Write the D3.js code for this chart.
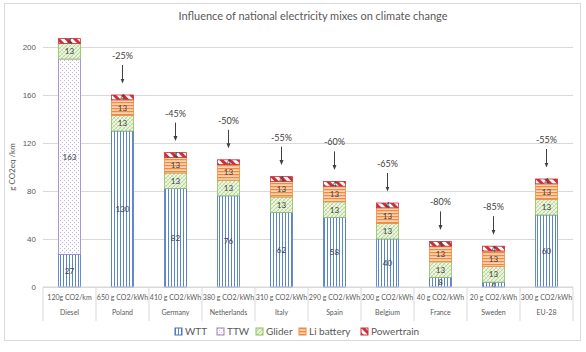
<!DOCTYPE html>
<html>
<head>
<meta charset="utf-8">
<script src="https://cdn.jsdelivr.net/npm/d3@7"></script>
<style>
  body { margin: 0; background: #fff; }
  svg { font-family: Lato, "Liberation Sans", sans-serif; }
</style>
</head>
<body>
<div id="chart"></div>
<script>
// DATA
var categories = ['Diesel', 'Poland', 'Germany', 'Netherlands', 'Italy', 'Spain', 'Belgium', 'France', 'Sweden', 'EU-28'];
var mixes = ['120g CO2/km', '650 g CO2/kWh', '410 g CO2/kWh', '380 g CO2/kWh', '310 g CO2/kWh',
             '290 g CO2/kWh', '200 g CO2/kWh', '40 g CO2/kWh', '20 g CO2/kWh', '300 g CO2/kWh'];
var wtt = [27, 130, 82, 76, 62, 58, 40, 8, 4, 60];
var ttw = [163, 0, 0, 0, 0, 0, 0, 0, 0, 0];
var glider = [13, 13, 13, 13, 13, 13, 13, 13, 13, 13];
var liBattery = [0, 13, 13, 13, 13, 13, 13, 13, 13, 13];
var powertrain = [4, 4, 4, 4, 4, 4, 4, 4, 4, 4];
var reductions = ['', '-25%', '-45%', '-50%', '-55%', '-60%', '-65%', '-80%', '-85%', '-55%'];
var seriesNames = ['WTT', 'TTW', 'Glider', 'Li battery', 'Powertrain'];
var yTicks = [0, 40, 80, 120, 160, 200];

var width = 586, height = 352,
    margin = { top: 47, right: 13, bottom: 65, left: 43 };

var colors = {
    'WTT': '#4472c4',
    'TTW': '#9a80c8',
    'Glider': '#8fbf5a',
    'Li battery': '#f08a3c',
    'Powertrain': '#c9303a'
};
var patternIds = { 'WTT': 'p-wtt', 'TTW': 'p-ttw', 'Glider': 'p-glider', 'Li battery': 'p-li', 'Powertrain': 'p-pt' };

var table = categories.map(function (c, i) {
    return { cat: c, mix: mixes[i], 'WTT': wtt[i], 'TTW': ttw[i], 'Glider': glider[i],
             'Li battery': liBattery[i], 'Powertrain': powertrain[i], red: reductions[i] };
});

var svg = d3.select('#chart').append('svg')
    .attr('width', width)
    .attr('height', height);

// PATTERNS
var defs = svg.append('defs');
var p = defs.append('pattern').attr('id', 'p-wtt').attr('patternUnits', 'userSpaceOnUse')
    .attr('width', 3).attr('height', 3);
p.append('rect').attr('width', 3).attr('height', 3).attr('fill', '#fff');
p.append('rect').attr('x', 0).attr('width', 1).attr('height', 3).attr('fill', '#5a84cc');

p = defs.append('pattern').attr('id', 'p-ttw').attr('patternUnits', 'userSpaceOnUse')
    .attr('width', 4).attr('height', 4);
p.append('rect').attr('width', 4).attr('height', 4).attr('fill', '#fdfcfe');
p.append('rect').attr('x', 0).attr('y', 0).attr('width', 1).attr('height', 1).attr('fill', '#c3b3e0');
p.append('rect').attr('x', 2).attr('y', 2).attr('width', 1).attr('height', 1).attr('fill', '#c3b3e0');

p = defs.append('pattern').attr('id', 'p-glider').attr('patternUnits', 'userSpaceOnUse')
    .attr('width', 4).attr('height', 4);
p.append('rect').attr('width', 4).attr('height', 4).attr('fill', '#eef5e4');
p.append('path').attr('d', 'M0,4 L4,0 M-1,1 L1,-1 M3,5 L5,3').attr('stroke', '#a9cf83').attr('stroke-width', 0.8);
p.append('path').attr('d', 'M0,0 L4,4').attr('stroke', '#c8e0ae').attr('stroke-width', 0.6);

p = defs.append('pattern').attr('id', 'p-li').attr('patternUnits', 'userSpaceOnUse')
    .attr('width', 3).attr('height', 3);
p.append('rect').attr('width', 3).attr('height', 3).attr('fill', '#fbd2b3');
p.append('rect').attr('y', 0).attr('width', 3).attr('height', 1.2).attr('fill', colors['Li battery']);

p = defs.append('pattern').attr('id', 'p-pt').attr('patternUnits', 'userSpaceOnUse')
    .attr('width', 6).attr('height', 6).attr('patternTransform', 'rotate(-45)');
p.append('rect').attr('width', 6).attr('height', 6).attr('fill', '#fff');
p.append('rect').attr('width', 3).attr('height', 6).attr('fill', colors['Powertrain']);

defs.append('marker').attr('id', 'arrow')
    .attr('viewBox', '0 0 10 10').attr('refX', 5).attr('refY', 5)
    .attr('markerWidth', 5).attr('markerHeight', 5).attr('orient', 'auto')
    .append('path').attr('d', 'M0,1 L10,5 L0,9 Z').attr('fill', '#404040');

// OUTER FRAME
svg.append('rect').attr('x', 4.5).attr('y', 3.5).attr('width', 576).attr('height', 337)
    .attr('fill', 'none').attr('stroke', '#d9d9d9');

// SCALES
var x = d3.scaleBand()
    .domain(categories)
    .range([margin.left, width - margin.right])
    .paddingInner(0).paddingOuter(0);
var y = d3.scaleLinear()
    .domain([0, 200])
    .range([height - margin.bottom, margin.top]);

// GRID + Y AXIS
var yAxis = d3.axisLeft(y).tickValues(yTicks).tickSize(-(x.range()[1] - x.range()[0])).tickPadding(7);
var gy = svg.append('g').attr('transform', 'translate(' + margin.left + ',0)').call(yAxis);
gy.select('.domain').remove();
gy.selectAll('line').attr('stroke', '#d9d9d9');
gy.selectAll('text').attr('fill', '#595959').style('font-size', '8px');

svg.append('text')
    .attr('transform', 'translate(15,' + y(100) + ') rotate(-90)')
    .attr('text-anchor', 'middle')
    .attr('fill', '#595959')
    .style('font-size', '8px')
    .text('g CO2eq /km');

// TITLE
svg.append('text')
    .attr('x', 313).attr('y', 20)
    .attr('text-anchor', 'middle')
    .attr('fill', '#595959')
    .style('font-size', '11px')
    .text('Influence of national electricity mixes on climate change');

// STACKED BARS
var stack = d3.stack().keys(seriesNames);
var series = stack(table);
var barW = 22;

var groups = svg.selectAll('.series').data(series).enter().append('g').attr('class', 'series');
groups.selectAll('rect')
    .data(function (s) { return s.map(function (d) { return { key: s.key, d: d }; }); })
    .enter().append('rect')
    .filter(function (o) { return o.d[1] - o.d[0] > 0; })
    .attr('x', function (o) { return x(o.d.data.cat) + x.bandwidth() / 2 - barW / 2; })
    .attr('y', function (o) { return y(o.d[1]); })
    .attr('width', barW)
    .attr('height', function (o) { return y(o.d[0]) - y(o.d[1]); })
    .attr('fill', function (o) { return 'url(#' + patternIds[o.key] + ')'; })
    .attr('stroke', function (o) { return colors[o.key]; })
    .attr('stroke-width', 0.8);

groups.selectAll('text.val')
    .data(function (s) { return s.map(function (d) { return { key: s.key, d: d }; }); })
    .enter().append('text')
    .filter(function (o) { return o.d[1] - o.d[0] > 0; })
    .attr('class', 'val')
    .attr('x', function (o) { return x(o.d.data.cat) + x.bandwidth() / 2; })
    .attr('y', function (o) { return (y(o.d[0]) + y(o.d[1])) / 2 + 3; })
    .attr('text-anchor', 'middle')
    .attr('fill', '#404040')
    .style('font-size', '8px')
    .text(function (o) { return o.d[1] - o.d[0]; });

// REDUCTION ANNOTATIONS
var tot = function (d) { return seriesNames.reduce(function (a, k) { return a + d[k]; }, 0); };
var ann = svg.selectAll('.ann').data(table.filter(function (d) { return d.red; }))
    .enter().append('g').attr('class', 'ann');
ann.append('text')
    .attr('x', function (d) { return x(d.cat) + x.bandwidth() / 2; })
    .attr('y', function (d) { return y(tot(d)) - 36; })
    .attr('text-anchor', 'middle')
    .attr('fill', '#404040')
    .style('font-size', '9px')
    .text(function (d) { return d.red; });
ann.append('line')
    .attr('x1', function (d) { return x(d.cat) + x.bandwidth() / 2; })
    .attr('x2', function (d) { return x(d.cat) + x.bandwidth() / 2; })
    .attr('y1', function (d) { return y(tot(d)) - 30; })
    .attr('y2', function (d) { return y(tot(d)) - 14; })
    .attr('stroke', '#404040')
    .attr('stroke-width', 1)
    .attr('marker-end', 'url(#arrow)');

// X AXIS (two-level labels)
var x0 = x.range()[0], x1 = x.range()[1], base = y(0);
svg.append('line').attr('x1', x0).attr('x2', x1).attr('y1', base).attr('y2', base)
    .attr('stroke', '#d9d9d9');
var bounds = categories.map(function (c) { return x(c); }).concat([x1]);
svg.selectAll('.sep').data(bounds).enter().append('line')
    .attr('x1', function (d) { return d; }).attr('x2', function (d) { return d; })
    .attr('y1', base).attr('y2', base + 34)
    .attr('stroke', '#d9d9d9');
svg.selectAll('.mix').data(table).enter().append('text')
    .attr('x', function (d) { return x(d.cat) + x.bandwidth() / 2; })
    .attr('y', base + 13)
    .attr('text-anchor', 'middle')
    .attr('fill', '#595959')
    .style('font-size', '7px')
    .text(function (d) { return d.mix; });
svg.selectAll('.cat').data(table).enter().append('text')
    .attr('x', function (d) { return x(d.cat) + x.bandwidth() / 2; })
    .attr('y', base + 28)
    .attr('text-anchor', 'middle')
    .attr('fill', '#595959')
    .style('font-size', '7px')
    .text(function (d) { return d.cat; });

// LEGEND
var legendX = [175, 217, 256, 299, 361];
var lg = svg.selectAll('.lg').data(seriesNames).enter().append('g')
    .attr('transform', function (d, i) { return 'translate(' + legendX[i] + ',328)'; });
lg.append('rect').attr('width', 7).attr('height', 7)
    .attr('fill', function (d) { return 'url(#' + patternIds[d] + ')'; })
    .attr('stroke', function (d) { return colors[d]; })
    .attr('stroke-width', 1);
lg.append('text').attr('x', 10).attr('y', 7)
    .attr('fill', '#595959')
    .style('font-size', '10px')
    .text(function (d) { return d; });
</script>
</body>
</html>
